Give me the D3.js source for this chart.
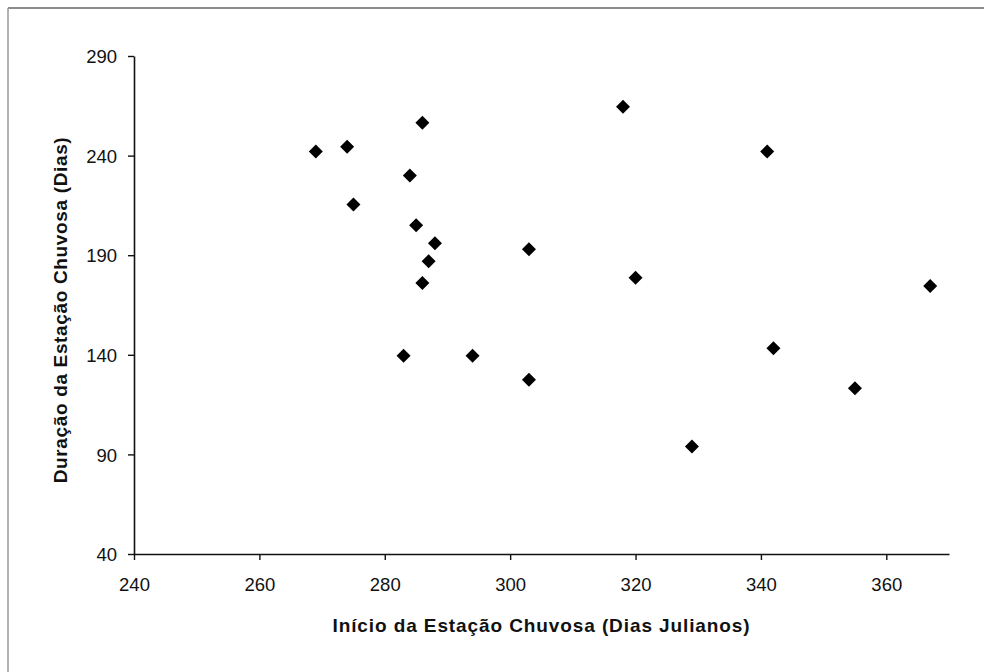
<!DOCTYPE html>
<html>
<head>
<meta charset="utf-8">
<script src="https://cdn.jsdelivr.net/npm/d3@7"></script>
<style>
  html, body { margin: 0; padding: 0; background: #fff; }
  svg { display: block; }
  text { font-family: Arial, "Liberation Sans", sans-serif; fill: #111; }
</style>
</head>
<body>
<svg id="chart" width="984" height="672"></svg>
<script>
// Data
const inicio  = [269, 274, 275, 284, 286, 285, 288, 287, 286, 283, 294, 303, 303, 318, 320, 329, 341, 342, 355, 367];
const duracao = [242, 244.5, 215.5, 230, 256.5, 205, 196, 187, 176, 139.5, 139.5, 193, 127.5, 264.5, 178.7, 94, 242, 143.3, 123.2, 174.5];
const xTicks = [240, 260, 280, 300, 320, 340, 360];
const yTicks = [40, 90, 140, 190, 240, 290];
const xDomain = [240, 370];
const yDomain = [40, 290];
const xTitle = "Início da Estação Chuvosa (Dias Julianos)";
const yTitle = "Duração da Estação Chuvosa (Dias)";

const svg = d3.select("#chart");
const mLeft = 134, mRight = 949, mTop = 56, mBottom = 554;

// outer frame (only top and left edges visible in the scan)
svg.append("line").attr("x1", 8).attr("x2", 984).attr("y1", 8).attr("y2", 8)
  .attr("stroke", "#666").attr("stroke-width", 1.6);
svg.append("line").attr("x1", 8).attr("x2", 8).attr("y1", 8).attr("y2", 672)
  .attr("stroke", "#999").attr("stroke-width", 1.5);

const x = d3.scaleLinear().domain(xDomain).range([mLeft, mRight]);
const y = d3.scaleLinear().domain(yDomain).range([mBottom, mTop]);

const xAxis = svg.append("g").attr("transform", `translate(0,${mBottom})`)
  .call(d3.axisBottom(x).tickValues(xTicks).tickSize(6).tickSizeOuter(0).tickPadding(18).tickFormat(d3.format("d")));
const yAxis = svg.append("g").attr("transform", `translate(${mLeft},0)`)
  .call(d3.axisLeft(y).tickValues(yTicks).tickSize(6).tickSizeOuter(0).tickPadding(11).tickFormat(d3.format("d")));

[xAxis, yAxis].forEach(g => {
  g.select(".domain").attr("stroke", "#111").attr("stroke-width", 1.6);
  g.selectAll(".tick line").attr("stroke", "#111").attr("stroke-width", 1.4);
  g.selectAll(".tick text").attr("font-size", 18.5).attr("fill", "#111")
    .attr("font-family", "Arial, 'Liberation Sans', sans-serif");
});
yAxis.selectAll(".tick text").attr("dy", "0.36em");

// points
const pts = inicio.map((v, i) => ({ x: v, y: duracao[i] }));
const r = 7;
svg.append("g").selectAll("path").data(pts).join("path")
  .attr("transform", d => `translate(${x(d.x)},${y(d.y)})`)
  .attr("d", `M0,${-r}L${r},0L0,${r}L${-r},0Z`)
  .attr("fill", "#000");

// axis titles; spacing adjusted so the titles span the same length as in the scan
function fitSpacing(t, target) {
  const n = t.text().length;
  const w = t.node().getComputedTextLength();
  t.attr("letter-spacing", ((target - w) / (n - 1)).toFixed(2));
}
const xt = svg.append("text").attr("x", (mLeft + mRight) / 2).attr("y", 632)
  .attr("text-anchor", "middle").attr("font-size", 19).attr("font-weight", "bold")
  .text(xTitle);
fitSpacing(xt, 417);
const yt = svg.append("text").attr("transform", `translate(67,310) rotate(-90)`)
  .attr("text-anchor", "middle").attr("font-size", 19).attr("font-weight", "bold")
  .text(yTitle);
fitSpacing(yt, 346);
</script>
</body>
</html>
